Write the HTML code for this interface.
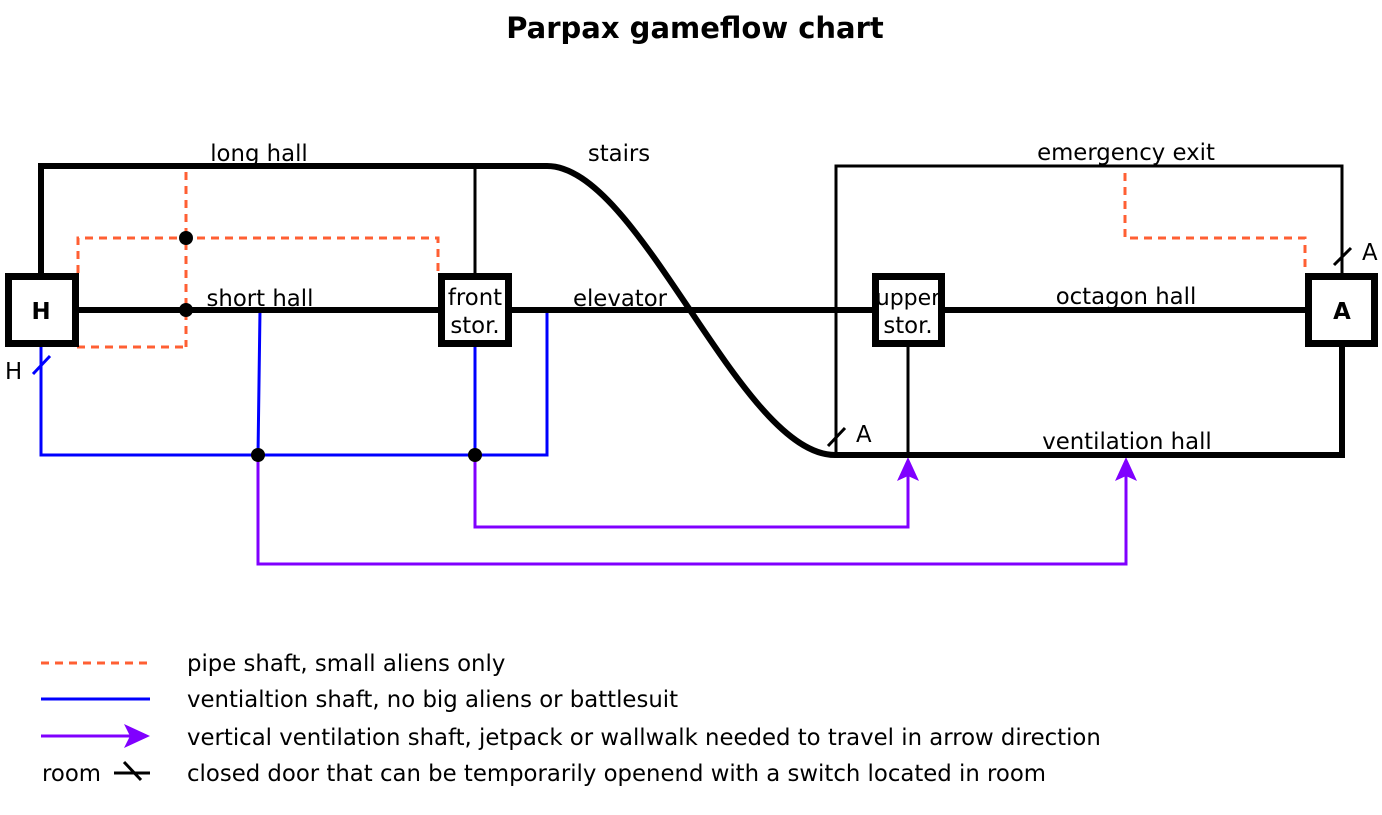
<!DOCTYPE html>
<html><head><style>body{margin:0;background:#fff}svg{display:block}text{font-family:"DejaVu Sans","Liberation Sans",sans-serif;font-size:22.8px;fill:#000}</style></head><body>
<svg width="1382" height="815" viewBox="0 0 1382 815" xmlns="http://www.w3.org/2000/svg">
<text x="695" y="38" text-anchor="middle" style="font-size:29px;font-weight:bold">Parpax gameflow chart</text>
<g stroke="#ff5f33" stroke-width="3" fill="none" stroke-dasharray="8,6">
<path d="M186,172 V347 M78,273 V238 H438 V273 M77,347 H186"/>
<path d="M1125,173 V238 H1305 V273"/>
</g>
<g stroke="#8000ff" stroke-width="3" fill="none">
<path d="M475,455 V527 H908 V470"/>
<path d="M258,455 V564 H1126 V470"/>
</g>
<path d="M908,457 L897,481 L908,476 L919,481Z M1126,457 L1115,481 L1126,476 L1137,481Z" fill="#8000ff"/>
<g stroke="#0000ff" stroke-width="3" fill="none">
<path d="M41,347 V455 H547 V310 M475,347 V455 M260,310 L258,455"/>
<path d="M33,374 L50,356"/>
</g>
<g stroke="#000" stroke-width="3" fill="none">
<path d="M475,166 V273 M836,455 V166 H1342 V273 M908,347 V455"/>
<path d="M828,446 L845,428 M1334,265 L1351,248"/>
</g>
<g stroke="#000" stroke-width="6" fill="none">
<path d="M41,273 V166 H547 C640,166 740,455 835,455 H1342 V347"/>
<path d="M77,310 H438 M512,310 H872 M945,310 H1305"/>
</g>
<g fill="#000"><circle cx="186" cy="238" r="7"/><circle cx="186" cy="310" r="7"/><circle cx="258" cy="455" r="7"/><circle cx="475" cy="455" r="7"/></g>
<g stroke="#000" stroke-width="7" fill="#fff">
<rect x="8.5" y="276.5" width="67" height="67"/>
<rect x="441.5" y="276.5" width="67" height="67"/>
<rect x="875.5" y="276.5" width="66" height="67"/>
<rect x="1308.5" y="276.5" width="66" height="67"/>
</g>
<text x="41" y="319" text-anchor="middle" style="font-weight:bold">H</text>
<text x="1342" y="319" text-anchor="middle" style="font-weight:bold">A</text>
<text x="475" y="305" text-anchor="middle">front</text>
<text x="475" y="333" text-anchor="middle">stor.</text>
<text x="908" y="305" text-anchor="middle" style="font-size:22px">upper</text>
<text x="908" y="333" text-anchor="middle">stor.</text>
<text x="259" y="161" text-anchor="middle">long hall</text>
<text x="619" y="161" text-anchor="middle">stairs</text>
<text x="1126" y="160" text-anchor="middle">emergency exit</text>
<text x="260" y="306" text-anchor="middle">short hall</text>
<text x="620" y="306" text-anchor="middle">elevator</text>
<text x="1126" y="304" text-anchor="middle">octagon hall</text>
<text x="1127" y="449" text-anchor="middle">ventilation hall</text>
<text x="5" y="379">H</text>
<text x="856" y="442">A</text>
<text x="1362" y="260">A</text>
<path d="M41,663 H150" stroke="#ff5f33" stroke-width="3" stroke-dasharray="8,6"/>
<path d="M41,699 H150" stroke="#0000ff" stroke-width="3"/>
<path d="M41,736 H140" stroke="#8000ff" stroke-width="3"/>
<path d="M150,736 L124,724 L130,736 L124,748Z" fill="#8000ff"/>
<path d="M114,773 H150 M124,762 L141,780" stroke="#000" stroke-width="3"/>
<text x="187" y="671">pipe shaft, small aliens only</text>
<text x="187" y="707">ventialtion shaft, no big aliens or battlesuit</text>
<text x="187" y="745">vertical ventilation shaft, jetpack or wallwalk needed to travel in arrow direction</text>
<text x="42" y="781">room</text>
<text x="187" y="781">closed door that can be temporarily openend with a switch located in room</text>
</svg>
</body></html>
